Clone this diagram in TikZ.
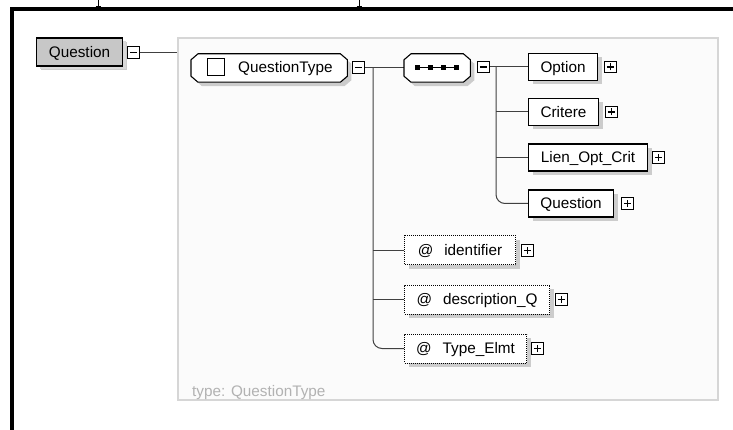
\documentclass[tikz,border=0pt]{standalone}
\usepackage{fontspec}
\setmainfont{Liberation Sans}
\usetikzlibrary{shadows,positioning}

\pgfdeclarelayer{frame}
\pgfdeclarelayer{lines}
\pgfsetlayers{frame,lines,main}

% octagonal outline (chamfered corners) around a named node
\newcommand{\octo}[1]{([xshift=7pt]#1.north west) -- ([xshift=-7pt]#1.north east)
  -- ([yshift=-6pt]#1.north east) -- ([yshift=6pt]#1.south east)
  -- ([xshift=-7pt]#1.south east) -- ([xshift=7pt]#1.south west)
  -- ([yshift=6pt]#1.south west) -- ([yshift=-6pt]#1.north west) -- cycle}

\begin{document}
\begin{tikzpicture}[x=1pt,y=-1pt,
  font=\fontsize{15.3}{18}\selectfont,
  conn/.style={draw=black!75, line width=1pt},
  elem/.style={draw, line width=1.1pt, fill=white, minimum height=27pt,
    inner sep=0pt, anchor=west, text height=12pt, text depth=1.3pt,
    drop shadow={shadow xshift=4pt, shadow yshift=-4pt, fill=black!20, opacity=1}},
  rootbox/.style={elem, fill=black!22, minimum height=28pt,
    drop shadow={shadow xshift=3pt, shadow yshift=-3pt, fill=black!15, opacity=1}},
  attr/.style={elem, line width=1pt, dash pattern=on 1pt off 1pt, minimum height=29pt},
  shapebox/.style={minimum height=28pt, inner sep=0pt, anchor=west},
  pmbox/.style={draw, line width=1pt, fill=white, minimum size=11.5pt, inner sep=0pt, anchor=west},
  minus/.style={pmbox, path picture={
    \draw[line width=1.3pt] ([xshift=-3.5pt]path picture bounding box.center)
      -- ([xshift=3.5pt]path picture bounding box.center);}},
  plus/.style={pmbox, path picture={
    \draw[line width=1.3pt] ([xshift=-3.5pt]path picture bounding box.center)
      -- ([xshift=3.5pt]path picture bounding box.center)
      ([yshift=-3.5pt]path picture bounding box.center)
      -- ([yshift=3.5pt]path picture bounding box.center);}},
  framebox/.style={draw=black!16, line width=1.5pt, fill=black!1.5, inner sep=0pt}
]
\useasboundingbox (0,0) rectangle (733,430);

% outer page border and the small ticks above it
\draw[line width=4pt, line join=miter] (12,430) -- (12,9) -- (733,9);
\draw[line width=1pt] (98,0) -- (98,7) (95.5,6.5) -- (100.5,6.5);
\draw[line width=1pt] (359,0) -- (359,7) (356.5,6.5) -- (361.5,6.5);

% type frame
\begin{pgfonlayer}{frame}
  \node[framebox, minimum width=540pt, minimum height=362pt] (fr) at (448,219) {};
  \node[anchor=base west, inner sep=0pt, text=black!30] (tlab) at (192,396) {type: QuestionType};
\end{pgfonlayer}

% root element
\node[rootbox, minimum width=86pt] (q) at (36,52) {Question};
\node[minus] (qm) at (127,52.5) {};

% complex type
\node[shapebox, minimum width=156pt] (qt) at (191,68) {};
\fill[black!20, transform canvas={xshift=4pt,yshift=-4pt}] \octo{qt};
\filldraw[fill=white, line width=1.1pt] \octo{qt};
\node[draw, line width=1.1pt, minimum size=17pt, inner sep=0pt] (qtsq) at (216,67) {};
\node[anchor=base west, inner sep=0pt] (qtl) at (238,72.5) {QuestionType};
\node[minus] (qtm) at (352,67.5) {};

% sequence compositor
\node[shapebox, minimum width=66pt] (seq) at (404,68) {};
\fill[black!20, transform canvas={xshift=4pt,yshift=-4pt}] \octo{seq};
\filldraw[fill=white, line width=1.1pt] \octo{seq};
\draw[line width=1.5pt] (417,67.5) -- (456,67.5);
\foreach \sx in {417,430,443,456}
  \fill (\sx-2.5,65) rectangle (\sx+2.5,70);
\node[minus] (sqm) at (477,67) {};

% child elements
\node[elem, minimum width=69pt] (opt) at (528,67) {Option};
\node[plus, right=6pt of opt] (optp) {};
\node[elem, minimum width=70pt] (cri) at (528,112) {Critere};
\node[plus, right=6pt of cri] (crip) {};
\node[elem, minimum width=119pt] (lien) at (528,157.5) {Lien\_Opt\_Crit};
\node[plus, right=4pt of lien] (lienp) {};
\node[elem, minimum width=85pt] (qin) at (528,203.5) {Question};
\node[plus, right=7pt of qin] (qinp) {};

% attributes
\node[attr, minimum width=111pt] (idn) at (404,250.5) {@\hspace{11pt}identifier};
\node[plus, right=5pt of idn] (idnp) {};
\node[attr, minimum width=145pt] (desc) at (404,299.5) {@\hspace{11pt}description\_Q};
\node[plus, right=5pt of desc] (descp) {};
\node[attr, minimum width=122pt] (typ) at (404,348.5) {@\hspace{11pt}Type\_Elmt};
\node[plus, right=4pt of typ] (typp) {};

% connectors
\coordinate (tA) at (373,67.5);
\coordinate (tB) at (496,67);
\begin{pgfonlayer}{lines}
  \draw[conn] (qm.east) -- (qm.east -| fr.west);
  \draw[conn] (qtm.east) -- (qtm.east -| seq.west);
  \draw[conn, rounded corners=9pt] (tA) |- (typ.west);
  \draw[conn] (tA |- idn.west) -- (idn.west);
  \draw[conn] (tA |- desc.west) -- (desc.west);
  \draw[conn] (sqm.east) -- (sqm.east -| opt.west);
  \draw[conn, rounded corners=9pt] (tB) |- (qin.west);
  \draw[conn] (tB |- cri.west) -- (cri.west);
  \draw[conn] (tB |- lien.west) -- (lien.west);
\end{pgfonlayer}
\end{tikzpicture}
\end{document}
